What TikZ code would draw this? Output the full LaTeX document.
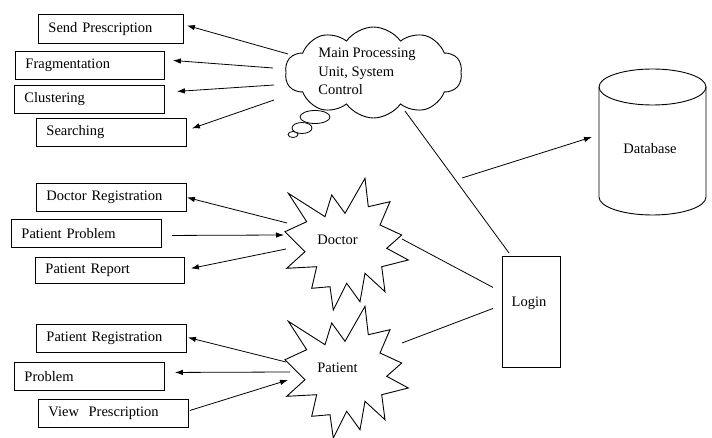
\documentclass[tikz,border=0pt]{standalone}
\usepackage{fontspec}
\setmainfont{Liberation Serif}
\usetikzlibrary{arrows.meta,shapes.symbols}
\begin{document}
\begin{tikzpicture}[x=1pt,y=1pt,
  every node/.style={font=\fontsize{14.5}{18.5}\selectfont},
  tbox/.style={draw, line width=0.9pt, anchor=north west, minimum height=28pt,
    inner xsep=10pt, inner ysep=0pt, text width=#1, align=left},
  conn/.style={line width=0.8pt},
  arr/.style={conn, -{Latex[length=8pt,width=5.5pt]}},
  explosion/.pic={\draw[line width=0.9pt, fill=white]
    (-49.2,46.7) -- (-12.5,23.3) -- (-5.8,45) -- (7.5,26.7) -- (27.5,61.7)
    -- (30.8,33.3) -- (52.5,38.3) -- (42.5,15) -- (64.2,5) -- (49.2,-8.3)
    -- (70.8,-20) -- (44.2,-26.7) -- (47.5,-51.7) -- (27.5,-33.3) -- (22.5,-61.7)
    -- (9.2,-43.3) -- (-4.2,-70) -- (-7.5,-46.7) -- (-25.8,-48.3) -- (-20.8,-26.7)
    -- (-50.8,-28.3) -- (-32.5,-11.7) -- (-52.5,8.3) -- (-30.8,18.3) -- cycle;}
]
\useasboundingbox (0,0) rectangle (712,-438);

% left boxes
\node[tbox=125pt, minimum height=29pt] (send)   at (38,-14)  {Send Prescription};
\node[tbox=129pt] (frag)   at (15,-51)  {Fragmentation};
\node[tbox=130pt] (clust)  at (14,-85)  {Clustering};
\node[tbox=130pt] (search) at (36,-118) {Searching};
\node[tbox=130pt] (docreg) at (36,-183) {Doctor Registration};
\node[tbox=130pt] (patprob) at (11,-219) {Patient Problem};
\node[tbox=129pt, minimum height=26pt] (patrep) at (35,-257) {Patient Report};
\node[tbox=130pt] (patreg) at (36,-324) {Patient Registration};
\node[tbox=130pt] (prob)   at (14,-362) {Problem};
\node[tbox=130pt] (view)   at (38,-399) {View\ \ Prescription};

% thought cloud
\draw[line width=0.8pt, fill=white] (293,-134.5) ellipse [x radius=5, y radius=3];
\draw[line width=0.8pt, fill=white] (302,-128) ellipse [x radius=10, y radius=5.5];
\draw[line width=0.8pt, fill=white] (315,-117) ellipse [x radius=15, y radius=6.5];
\node[cloud, draw, fill=white, line width=0.9pt, cloud puffs=10, cloud puff arc=110,
  cloud ignores aspect, minimum width=177pt, minimum height=91pt] (cloud) at (373.5,-72.5) {};
\node[align=left] (mpu) at (367,-71.5) {Main Processing\\Unit, System\\Control};

% stars
\pic at (337.5,-240) {explosion};
\node (doctor) at (337.5,-240) {Doctor};
\pic at (337.5,-368) {explosion};
\node (patient) at (337.5,-368) {Patient};

% login
\node[draw, line width=0.9pt, anchor=north west, minimum width=58pt, minimum height=111pt] (login) at (502,-256) {};
\node (logintxt) at (529,-303) {Login};

% database
\draw[line width=0.9pt] (599,-87) -- (599,-197) arc[start angle=180, end angle=360, x radius=53.5, y radius=18] -- (706,-87);
\draw[line width=0.9pt] (652.5,-87) ellipse [x radius=53.5, y radius=18];
\node (db) at (650,-149) {Database};
\coordinate (dbsrc) at (462,-178);

% connectors from cloud
\draw[arr] ([shift={(-85.5,18.5)}]cloud.center) -- ([shift={(3,3.5)}]send.east);
\draw[arr] ([shift={(-100.5,4.5)}]cloud.center) -- ([shift={(8,5)}]frag.east);
\draw[arr] ([shift={(-99.5,-12.5)}]cloud.center) -- ([shift={(12,8)}]clust.east);
\draw[arr] ([shift={(-99.5,-27.5)}]cloud.center) -- ([shift={(5,4)}]search.east);

% doctor
\draw[arr] ([shift={(-50.5,17)}]doctor.center) -- (docreg.east);
\draw[arr] ([shift={(10,-2)}]patprob.east) -- ([shift={(-53.5,5)}]doctor.center);
\draw[arr] ([shift={(-51.5,-9)}]doctor.center) -- ([shift={(6,2)}]patrep.east);

% patient
\draw[arr] ([shift={(-51.5,6)}]patient.center) -- ([shift={(1,1)}]patreg.east);
\draw[arr] ([shift={(-47.5,-4)}]patient.center) -- ([shift={(10,4)}]prob.east);
\draw[arr] ([shift={(1,3)}]view.east) -- ([shift={(-49.5,-12)}]patient.center);

% to login
\draw[conn] ([shift={(64.5,1)}]doctor.center) -- ([shift={(-9,24.5)}]login.west);
\draw[conn] ([shift={(64.5,25)}]patient.center) -- ([shift={(-9,3.5)}]login.west);
\draw[conn] ([shift={(31.5,-38.5)}]cloud.center) -- ([shift={(7,3)}]login.north west);

% to database
\draw[arr] (dbsrc) -- ([shift={(-58,12)}]db.center);
\end{tikzpicture}
\end{document}
